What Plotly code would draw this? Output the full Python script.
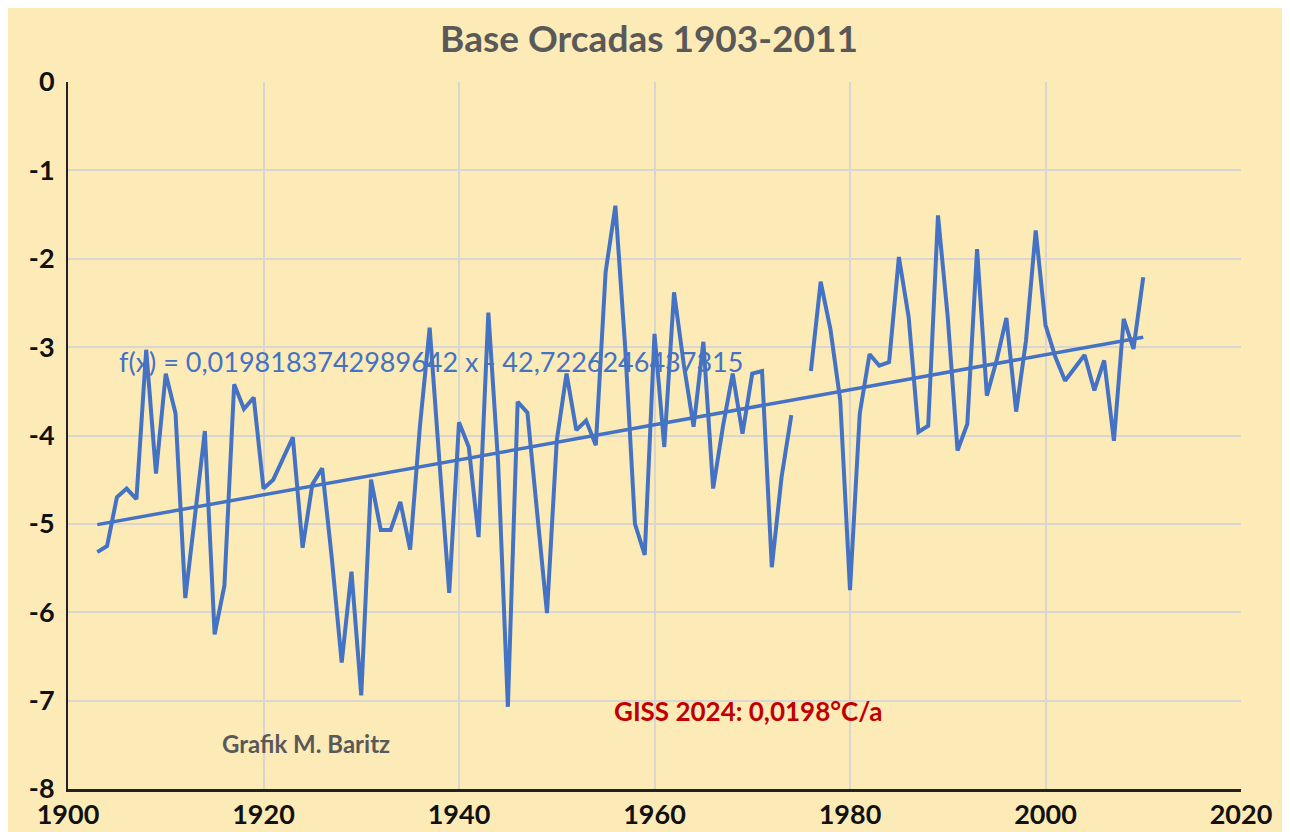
import plotly.graph_objects as go

years = list(range(1903, 2011))
temps = [
    -5.32, -5.25, -4.70, -4.60, -4.72, -3.03, -4.43, -3.30, -3.75, -5.84,   # 1903-1912
    -4.90, -3.95, -6.25, -5.70, -3.42, -3.70, -3.57, -4.60, -4.50, -4.25,   # 1913-1922
    -4.02, -5.27, -4.55, -4.37, -5.40, -6.57, -5.54, -6.94, -4.50, -5.07,   # 1923-1932
    -5.07, -4.75, -5.29, -3.90, -2.78, -4.30, -5.78, -3.85, -4.13, -5.15,   # 1933-1942
    -2.61, -4.30, -7.07, -3.62, -3.74, -4.88, -6.01, -4.06, -3.30, -3.94,   # 1943-1952
    -3.83, -4.11, -2.15, -1.40, -3.00, -5.00, -5.35, -2.85, -4.13, -2.38,   # 1953-1962
    -3.20, -3.90, -2.94, -4.60, -3.90, -3.30, -3.98, -3.30, -3.27, -5.49,   # 1963-1972
    -4.47, -3.77, None, -3.27, -2.26, -2.80, -3.60, -5.75, -3.75, -3.08,    # 1973-1982
    -3.21, -3.17, -1.98, -2.66, -3.96, -3.89, -1.51, -2.66, -4.17, -3.87,   # 1983-1992
    -1.89, -3.55, -3.15, -2.67, -3.73, -2.93, -1.68, -2.75, -3.11, -3.38,   # 1993-2002
    -3.23, -3.09, -3.49, -3.15, -4.06, -2.68, -3.02, -2.21,                 # 2003-2010
]

trend_slope = 0.0198183742989642
trend_intercept = -42.7226246437315
trend_years = [1903, 2010]
trend_vals = [trend_slope * y + trend_intercept for y in trend_years]

x_ticks = [1900, 1920, 1940, 1960, 1980, 2000, 2020]
y_ticks = [0, -1, -2, -3, -4, -5, -6, -7, -8]

title_text = "Base Orcadas 1903-2011"
eq_text = "f(x) = 0,0198183742989642 x - 42,7226246437315"
giss_text = "GISS 2024: 0,0198°C/a"
credit_text = "Grafik M. Baritz"

BG = "#FDEBB7"
BLUE = "#4472C4"
FONT = "Lato"

fig = go.Figure()
fig.add_trace(go.Scatter(x=years, y=temps, mode="lines",
                         line=dict(color=BLUE, width=4), connectgaps=False,
                         showlegend=False, hoverinfo="x+y"))
fig.add_trace(go.Scatter(x=trend_years, y=trend_vals, mode="lines",
                         line=dict(color=BLUE, width=3.5),
                         showlegend=False, hoverinfo="skip"))

fig.update_layout(
    width=1282, height=824,
    paper_bgcolor=BG, plot_bgcolor=BG,
    margin=dict(l=60, r=49, t=74, b=43),
    title=dict(text=f"<b>{title_text}</b>", x=0.5, xref="container", xanchor="center",
               y=0.962, yref="container", yanchor="middle",
               font=dict(family=FONT, size=37, color="#595959")),
    xaxis=dict(range=[1900, 2020], tickvals=x_ticks, ticktext=[str(t) for t in x_ticks],
               showgrid=True, gridcolor="#D9D5D0", gridwidth=1.5, automargin=False,
               zeroline=False, showline=True, linecolor="#222222", linewidth=3,
               ticks="", tickfont=dict(family=FONT, size=27, color="#111111", weight="bold"),
               ticklabelstandoff=0),
    yaxis=dict(range=[-8, 0], tickvals=y_ticks, ticktext=[str(t) for t in y_ticks],
               showgrid=True, gridcolor="#D9D5D0", gridwidth=1.5, automargin=False,
               zeroline=False, showline=True, linecolor="#222222", linewidth=2,
               ticks="", tickfont=dict(family=FONT, size=27, color="#111111", weight="bold"),
               ticklabelstandoff=6),
    annotations=[
        dict(x=1937.1, y=-3.16, xref="x", yref="y", text=eq_text, showarrow=False,
             font=dict(family=FONT, size=27, color=BLUE), xanchor="center", yanchor="middle"),
        dict(x=1969.6, y=-7.12, xref="x", yref="y", text=f"<b>{giss_text}</b>", showarrow=False,
             font=dict(family=FONT, size=26, color="#C00000"), xanchor="center", yanchor="middle"),
        dict(x=1924.3, y=-7.49, xref="x", yref="y", text=f"<b>{credit_text}</b>", showarrow=False,
             font=dict(family=FONT, size=24, color="#595959"), xanchor="center", yanchor="middle"),
    ],
)

fig.write_html("out.html")
